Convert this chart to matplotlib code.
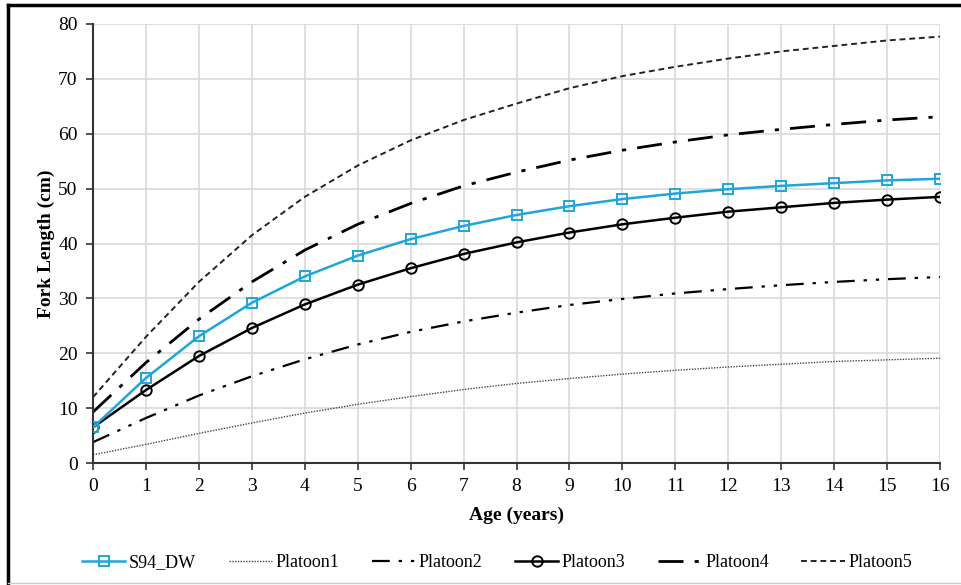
import matplotlib.pyplot as plt
from matplotlib.lines import Line2D

plt.rcParams['font.family'] = ['Liberation Serif', 'DejaVu Serif']

ages = list(range(0, 17))
s94_dw = [6.5, 15.5, 23.1, 29.2, 34.0, 37.8, 40.8, 43.2, 45.2, 46.8, 48.1, 49.1, 49.9, 50.5, 51.0, 51.5, 51.8]
platoon1 = [1.5, 3.4, 5.4, 7.3, 9.1, 10.7, 12.1, 13.4, 14.5, 15.4, 16.2, 16.9, 17.5, 18.0, 18.5, 18.8, 19.1]
platoon2 = [3.8, 8.2, 12.3, 15.8, 18.9, 21.6, 23.9, 25.8, 27.4, 28.8, 29.9, 30.9, 31.7, 32.4, 33.0, 33.5, 33.9]
platoon3 = [6.5, 13.3, 19.5, 24.6, 28.9, 32.5, 35.5, 38.1, 40.2, 42.0, 43.5, 44.7, 45.8, 46.6, 47.4, 48.0, 48.5]
platoon4 = [9.3, 18.3, 26.2, 33.0, 38.8, 43.5, 47.3, 50.5, 53.0, 55.2, 57.0, 58.5, 59.8, 60.8, 61.7, 62.5, 63.1]
platoon5 = [12.0, 23.0, 33.0, 41.5, 48.5, 54.2, 58.8, 62.5, 65.5, 68.3, 70.5, 72.2, 73.7, 75.0, 76.0, 77.0, 77.7]

fig = plt.figure(figsize=(9.61, 5.85), dpi=100)
ax = fig.add_axes([0.0968, 0.2085, 0.8814, 0.7505])

ax.plot(ages, s94_dw, color='#1ea6d9', lw=1.8, marker='s', ms=7.5, mfc='none', mew=1.4, label='S94_DW', zorder=5)
ax.plot(ages, platoon1, color='#444444', lw=1.0, ls=(0, (1, 1)), label='Platoon1')
ax.plot(ages, platoon2, color='black', lw=1.6, ls=(0, (8, 4, 1.5, 4, 1.5, 4)), label='Platoon2')
ax.plot(ages, platoon3, color='black', lw=1.8, marker='o', ms=7.5, mfc='none', mew=1.4, label='Platoon3', zorder=4)
ax.plot(ages, platoon4, color='black', lw=2.0, ls=(0, (9, 4, 1.5, 4)), label='Platoon4')
ax.plot(ages, platoon5, color='#222222', lw=1.4, ls=(0, (3, 2)), label='Platoon5')

ax.set_xlim(0, 16)
ax.set_ylim(0, 80)
ax.set_xticks(range(0, 17))
ax.set_yticks(range(0, 81, 10))
ax.grid(True, color='#d9d9d9', lw=1.2)
ax.set_axisbelow(True)
for s in ['top', 'right']:
    ax.spines[s].set_visible(False)
for s in ['left', 'bottom']:
    ax.spines[s].set_color('#333333')
    ax.spines[s].set_linewidth(1.5)
ax.tick_params(direction='out', length=5, width=1.2, color='#333333', labelsize=14, pad=6)

ax.set_xlabel('Age (years)', fontsize=14, fontweight='bold', labelpad=8)
ax.set_ylabel('Fork Length (cm)', fontsize=14, fontweight='bold', labelpad=2)

ax.legend(loc='upper center', bbox_to_anchor=(0.477, -0.17), ncol=6, frameon=False,
          fontsize=13, handlelength=2.4, handletextpad=0.2, columnspacing=1.8)

# frame around the figure
fig.add_artist(Line2D([8 / 961, 8 / 961], [0, 1 - 5 / 585], color='black', lw=2.5))
fig.add_artist(Line2D([8 / 961, 1], [1 - 5 / 585, 1 - 5 / 585], color='black', lw=2.5))
fig.add_artist(Line2D([8 / 961, 1], [2 / 585, 2 / 585], color='#cccccc', lw=1))

fig.savefig('out.png', dpi=100)
